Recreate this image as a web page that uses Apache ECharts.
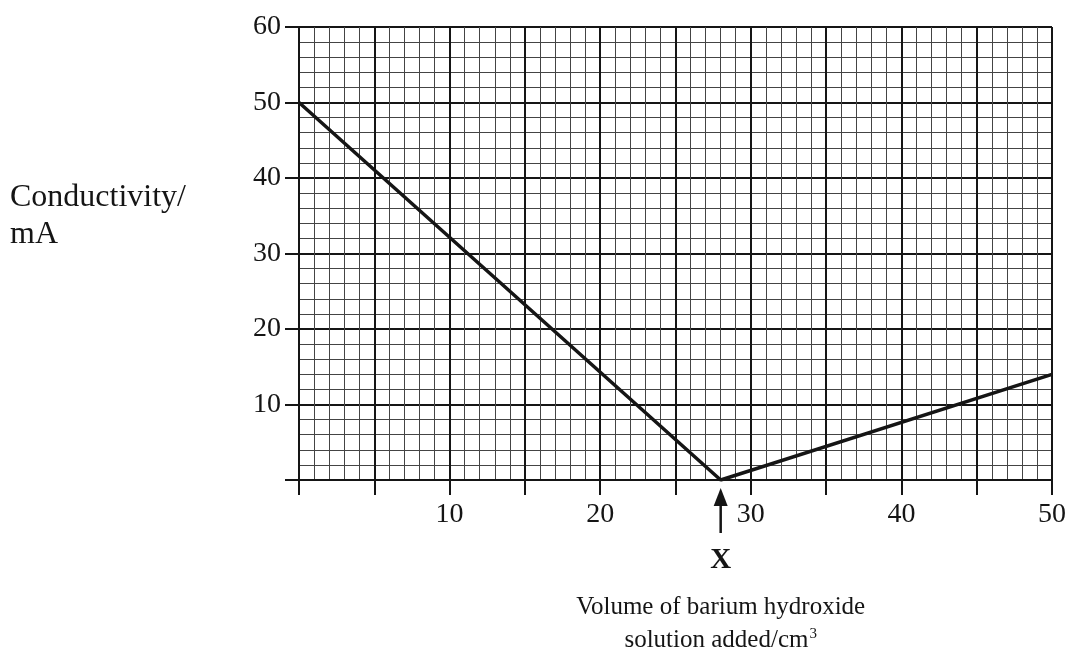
<!DOCTYPE html>
<html>
<head>
<meta charset="utf-8">
<title>Conductivity titration</title>
<script src="https://cdn.jsdelivr.net/npm/echarts@6/dist/echarts.min.js"></script>
<style>
  html, body { margin: 0; padding: 0; background: #fff; }
  #chart { width: 1069px; height: 657px; }
</style>
</head>
<body>
<div id="chart"></div>
<script>
// Volume of Ba(OH)2 added (cm3) and measured conductivity (mA)
const volumes = [0, 28, 50];
const conductivity = [50, 0, 14];
const endPointVolume = 28;
const xTickLabels = [10, 20, 30, 40, 50];
const yTickLabels = [10, 20, 30, 40, 50, 60];

const FONT = '"Liberation Serif", "DejaVu Serif", serif';
const INK = '#151515';

const chart = echarts.init(document.getElementById('chart'));

const points = volumes.map((v, i) => [v, conductivity[i]]);

const option = {
  animation: false,
  backgroundColor: '#fff',
  grid: { left: 299, right: 13, top: 27, bottom: 177, containLabel: false },
  xAxis: {
    type: 'value', min: 0, max: 50, interval: 5,
    axisLine: { show: true, onZero: false, lineStyle: { color: INK, width: 2 } },
    axisTick: { show: true, inside: false, length: 15, lineStyle: { color: INK, width: 2 } },
    axisLabel: {
      margin: 21, color: INK, fontFamily: FONT, fontSize: 28,
      formatter: v => xTickLabels.includes(v) ? String(v) : ''
    },
    splitLine: { show: true, lineStyle: { color: INK, width: 2 } },
    minorTick: { show: false, splitNumber: 5 },
    minorSplitLine: { show: true, lineStyle: { color: '#444', width: 1 } }
  },
  yAxis: {
    type: 'value', min: 0, max: 60, interval: 10,
    axisLine: { show: true, lineStyle: { color: INK, width: 2 } },
    axisTick: { show: true, inside: false, length: 14, lineStyle: { color: INK, width: 2 } },
    axisLabel: {
      margin: 18, color: INK, fontFamily: FONT, fontSize: 28,
      formatter: v => yTickLabels.includes(v) ? String(v) : ''
    },
    splitLine: { show: true, lineStyle: { color: INK, width: 2 } },
    minorTick: { show: false, splitNumber: 5 },
    minorSplitLine: { show: true, lineStyle: { color: '#444', width: 1 } }
  },
  series: [{
    type: 'line',
    data: points,
    symbol: 'none',
    lineStyle: { color: INK, width: 3.5 },
    z: 5
  }]
};
chart.setOption(option);

// Annotations anchored to the end point on the volume axis
const [ex, ey] = chart.convertToPixel({ gridIndex: 0 }, [endPointVolume, 0]);
chart.setOption({
  graphic: [
    {
      type: 'polygon',
      shape: { points: [[ex, ey + 8], [ex - 7, ey + 26], [ex + 7, ey + 26]] },
      style: { fill: INK }
    },
    {
      type: 'line',
      shape: { x1: ex, y1: ey + 22, x2: ex, y2: ey + 53 },
      style: { stroke: INK, lineWidth: 2.5 }
    },
    {
      type: 'text', x: ex, y: ey + 81,
      style: { text: 'X', fontFamily: FONT, fontSize: 29, fontWeight: 'bold', fill: INK, align: 'center', verticalAlign: 'middle' }
    },
    {
      type: 'text', x: ex, y: ey + 127,
      style: { text: 'Volume of barium hydroxide', fontFamily: FONT, fontSize: 25, fill: INK, align: 'center', verticalAlign: 'middle' }
    },
    {
      type: 'text', x: ex, y: ey + 160,
      style: {
        text: '{n|solution added/cm}{s|3}',
        align: 'center', verticalAlign: 'middle',
        rich: {
          n: { fontFamily: FONT, fontSize: 25, fill: INK },
          s: { fontFamily: FONT, fontSize: 15, fill: INK, verticalAlign: 'top', padding: [0, 0, 12, 1] }
        }
      }
    },
    {
      type: 'text', x: 10, y: 216,
      style: { text: 'Conductivity/\nmA', fontFamily: FONT, fontSize: 32, lineHeight: 37, fill: INK, align: 'left', verticalAlign: 'middle' }
    }
  ]
});
</script>
</body>
</html>
